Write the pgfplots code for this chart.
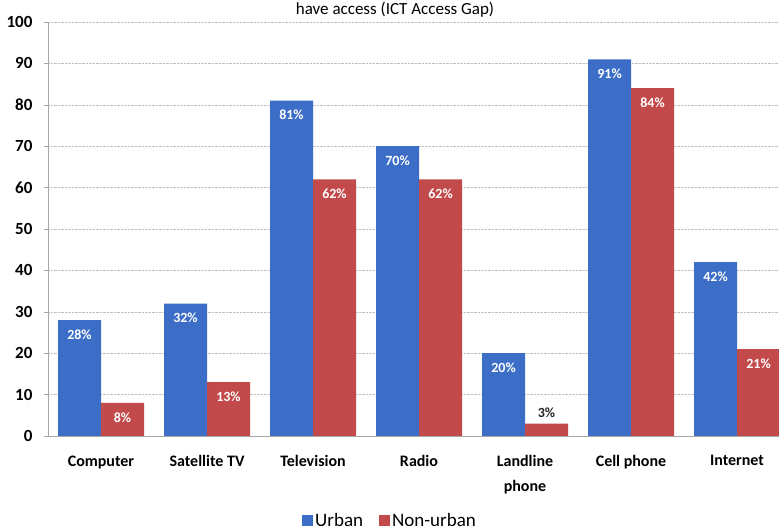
\documentclass[border=0pt]{standalone}
\usepackage{pgfplots}
\pgfplotsset{compat=1.18}
\usepackage{pgfplotstable}
\usepackage{fontspec}
\setmainfont{Carlito}
\definecolor{ublue}{RGB}{61,110,199}
\definecolor{nred}{RGB}{195,74,74}
\pgfplotstableread{
x u n
0 28 8
1 32 13
2 81 62
3 70 62
4 20 3
5 91 84
6 42 21
}\data
\pgfplotsset{sqleg/.style={legend image code/.code={\fill[##1,draw=none] (0pt,-5.5pt) rectangle (11pt,5.5pt);}}}
\begin{document}
\begin{tikzpicture}
\begin{axis}[
 at={(48pt,94pt)}, anchor=south west,
 scale only axis, width=742pt, height=414pt,
 xmin=-0.5, xmax=6.5, ymin=0, ymax=100,
 ytick={0,10,...,100},
 xtick={0,...,6},
 xticklabels={Computer, Satellite TV, Television, Radio, {Landline\\phone}, Cell phone, Internet},
 xticklabel style={align=center, font=\fontsize{16}{25}\selectfont\bfseries, yshift=-12pt},
 yticklabel style={font=\fontsize{17}{20}\selectfont\bfseries, xshift=-8pt},
 /pgf/number format/assume math mode=true,
 axis x line*=bottom, axis y line*=left,
 axis line style={gray!70, -},
 ymajorgrids, grid style={densely dotted, gray!50},
 xtick style={draw=none},
 ytick style={gray!70}, major tick length=4pt, tick align=outside,
 ybar, bar width=43pt,
 legend style={at={(0.461,-0.205)}, anchor=center, draw=none, fill=none,
   legend columns=2, font=\fontsize{19}{22}\selectfont,
   /tikz/every even column/.append style={column sep=14pt}},
 every node near coord/.append style={font=\fontsize{14}{16}\selectfont\bfseries},
]
\addplot[fill=ublue, draw=none, bar shift=-21.5pt, sqleg,
  nodes near coords={\pgfmathprintnumber{\pgfplotspointmeta}\%},
  every node near coord/.append style={anchor=north, text=white, yshift=-6pt}]
  table[x=x,y=u] {\data};
\addlegendentry{Urban}
\addplot[fill=nred, draw=none, bar shift=21.5pt, sqleg]
  table[x=x,y=n] {\data};
\addlegendentry{Non-urban}
\addplot[forget plot, draw=none, fill=none, bar shift=21.5pt,
  nodes near coords={\pgfmathprintnumber{\pgfplotspointmeta}\%},
  every node near coord/.append style={anchor=north, text=white, yshift=-6pt}]
  coordinates {(0,8) (1,13) (2,62) (3,62) (5,84) (6,21)};
\addplot[forget plot, draw=none, fill=none, bar shift=21.5pt,
  nodes near coords={\pgfmathprintnumber{\pgfplotspointmeta}\%},
  every node near coord/.append style={anchor=south, text=black!85, yshift=2pt}]
  coordinates {(4,3)};
\end{axis}
\node[font=\fontsize{17}{20}\selectfont, anchor=base] at (395pt,515pt) {have access (ICT Access Gap)};
\pgfresetboundingbox
\useasboundingbox (0pt,0pt) rectangle (779pt,530pt);
\end{tikzpicture}
\end{document}
